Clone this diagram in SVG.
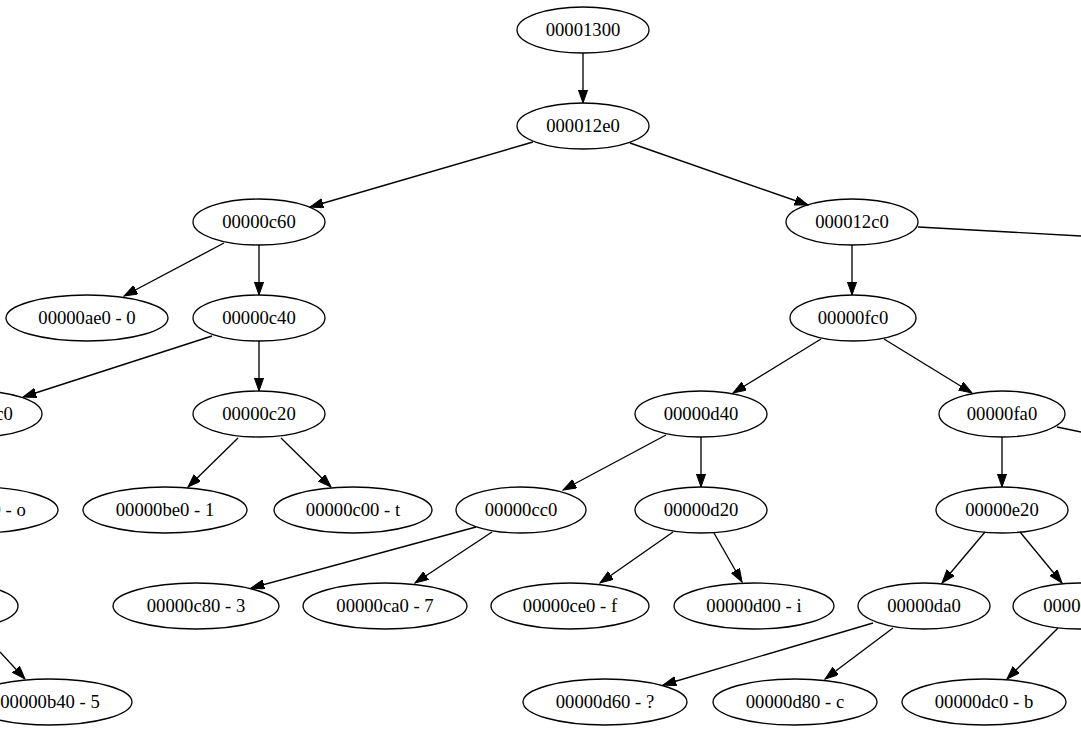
<svg xmlns="http://www.w3.org/2000/svg" width="1081" height="740" viewBox="0 0 1081 740">
<style>
.n ellipse{fill:none;stroke:#000;stroke-width:1.33}
.n text{font-family:"Liberation Serif","Times New Roman",serif;font-size:18.67px;text-anchor:middle;fill:#000}
.e line{stroke:#000;stroke-width:1.33;fill:none}
</style>
<defs>
<marker id="ah" markerUnits="userSpaceOnUse" markerWidth="14" markerHeight="10" refX="13.3" refY="4.7" orient="auto">
<path d="M0,0 L13.3,4.7 L0,9.4 z" fill="#000" stroke="#000" stroke-width="1"/>
</marker>
</defs>
<rect width="1081" height="740" fill="#fff"/>
<g id="edges" class="e">
<line x1="583" y1="53" x2="583" y2="103" marker-end="url(#ah)"/>
<line x1="533" y1="142" x2="310" y2="207" marker-end="url(#ah)"/>
<line x1="630" y1="143" x2="808" y2="205" marker-end="url(#ah)"/>
<line x1="918" y1="227" x2="1081" y2="236"/>
<line x1="224" y1="243" x2="124" y2="296" marker-end="url(#ah)"/>
<line x1="259" y1="245" x2="259" y2="295" marker-end="url(#ah)"/>
<line x1="212" y1="336" x2="23" y2="397" marker-end="url(#ah)"/>
<line x1="259" y1="341" x2="259" y2="391" marker-end="url(#ah)"/>
<line x1="238" y1="438" x2="188" y2="487" marker-end="url(#ah)"/>
<line x1="281" y1="438" x2="331" y2="487" marker-end="url(#ah)"/>
<line x1="852" y1="245" x2="852" y2="295" marker-end="url(#ah)"/>
<line x1="821" y1="339" x2="733" y2="393" marker-end="url(#ah)"/>
<line x1="884" y1="339" x2="972" y2="393" marker-end="url(#ah)"/>
<line x1="1057" y1="427" x2="1081" y2="432"/>
<line x1="1002" y1="437" x2="1002" y2="487" marker-end="url(#ah)"/>
<line x1="666" y1="435" x2="563" y2="490" marker-end="url(#ah)"/>
<line x1="701" y1="437" x2="701" y2="487" marker-end="url(#ah)"/>
<line x1="476" y1="527" x2="251" y2="588" marker-end="url(#ah)"/>
<line x1="492" y1="532" x2="415" y2="583" marker-end="url(#ah)"/>
<line x1="673" y1="532" x2="600" y2="583" marker-end="url(#ah)"/>
<line x1="714" y1="533" x2="742" y2="582" marker-end="url(#ah)"/>
<line x1="985" y1="532" x2="942" y2="583" marker-end="url(#ah)"/>
<line x1="1020" y1="532" x2="1062" y2="583" marker-end="url(#ah)"/>
<line x1="873" y1="623" x2="663" y2="685" marker-end="url(#ah)"/>
<line x1="893" y1="628" x2="825" y2="679" marker-end="url(#ah)"/>
<line x1="1058" y1="628" x2="1007" y2="679" marker-end="url(#ah)"/>
<line x1="0" y1="652" x2="25" y2="679" marker-end="url(#ah)"/>
</g>
<g id="n1300" class="n"><ellipse cx="583" cy="30" rx="66" ry="23"/><text x="583" y="36">00001300</text></g>
<g id="n12e0" class="n"><ellipse cx="583" cy="126" rx="66" ry="23"/><text x="583" y="132">000012e0</text></g>
<g id="nc60" class="n"><ellipse cx="259" cy="222" rx="66" ry="23"/><text x="259" y="228">00000c60</text></g>
<g id="n12c0" class="n"><ellipse cx="852" cy="222" rx="66" ry="23"/><text x="852" y="228">000012c0</text></g>
<g id="nae0" class="n"><ellipse cx="87" cy="318" rx="81" ry="23"/><text x="87" y="324">00000ae0 - 0</text></g>
<g id="nc40" class="n"><ellipse cx="259" cy="318" rx="66" ry="23"/><text x="259" y="324">00000c40</text></g>
<g id="nfc0" class="n"><ellipse cx="853" cy="318" rx="63" ry="23"/><text x="853" y="324">00000fc0</text></g>
<g id="nbc0" class="n"><ellipse cx="-24" cy="414" rx="66" ry="23"/><text x="-24" y="420">00000bc0</text></g>
<g id="nc20" class="n"><ellipse cx="259" cy="414" rx="66" ry="23"/><text x="259" y="420">00000c20</text></g>
<g id="nd40" class="n"><ellipse cx="701" cy="414" rx="66" ry="23"/><text x="701" y="420">00000d40</text></g>
<g id="nfa0" class="n"><ellipse cx="1002" cy="414" rx="63" ry="23"/><text x="1002" y="420">00000fa0</text></g>
<g id="nb00" class="n"><ellipse cx="-23" cy="510" rx="81" ry="23"/><text x="-24" y="516">00000b00 - o</text></g>
<g id="nbe0" class="n"><ellipse cx="165" cy="510" rx="82" ry="23"/><text x="165" y="516">00000be0 - 1</text></g>
<g id="nc00" class="n"><ellipse cx="353" cy="510" rx="79" ry="23"/><text x="353" y="516">00000c00 - t</text></g>
<g id="ncc0" class="n"><ellipse cx="521" cy="510" rx="65" ry="23"/><text x="521" y="516">00000cc0</text></g>
<g id="nd20" class="n"><ellipse cx="701" cy="510" rx="66" ry="23"/><text x="701" y="516">00000d20</text></g>
<g id="ne20" class="n"><ellipse cx="1002" cy="510" rx="66" ry="23"/><text x="1002" y="516">00000e20</text></g>
<g id="nb60" class="n"><ellipse cx="-48" cy="606" rx="66" ry="23"/><text x="-48" y="612">00000b60</text></g>
<g id="nc80" class="n"><ellipse cx="196" cy="606" rx="83" ry="23"/><text x="196" y="612">00000c80 - 3</text></g>
<g id="nca0" class="n"><ellipse cx="385" cy="606" rx="82" ry="23"/><text x="385" y="612">00000ca0 - 7</text></g>
<g id="nce0" class="n"><ellipse cx="570" cy="606" rx="79" ry="23"/><text x="570" y="612">00000ce0 - f</text></g>
<g id="nd00" class="n"><ellipse cx="754" cy="606" rx="80" ry="23"/><text x="754" y="612">00000d00 - i</text></g>
<g id="nda0" class="n"><ellipse cx="924" cy="606" rx="66" ry="23"/><text x="924" y="612">00000da0</text></g>
<g id="ne00" class="n"><ellipse cx="1079" cy="606" rx="66" ry="23"/><text x="1080" y="612">00000e00</text></g>
<g id="nb40" class="n"><ellipse cx="50" cy="702" rx="82" ry="23"/><text x="50" y="708">00000b40 - 5</text></g>
<g id="nd60" class="n"><ellipse cx="605" cy="702" rx="82" ry="23"/><text x="605" y="708">00000d60 - ?</text></g>
<g id="nd80" class="n"><ellipse cx="795" cy="702" rx="82" ry="23"/><text x="795" y="708">00000d80 - c</text></g>
<g id="ndc0" class="n"><ellipse cx="984" cy="702" rx="82" ry="23"/><text x="984" y="708">00000dc0 - b</text></g>
</svg>
